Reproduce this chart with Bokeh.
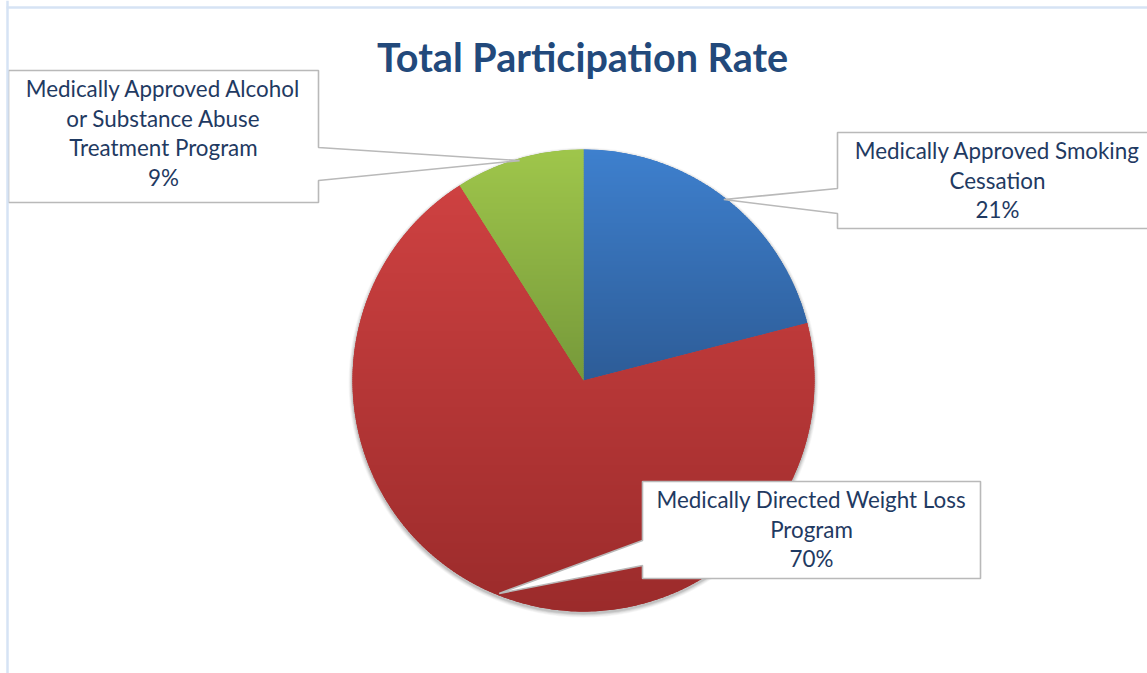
import numpy as np
from bokeh.plotting import figure
from bokeh.models import Range1d
from bokeh.core.properties import value
from bokeh.embed import file_html
from bokeh.resources import INLINE

# ---------------- data ----------------
chart_title = "Total Participation Rate"
categories = ["Medically Approved Smoking Cessation",
              "Medically Directed Weight Loss Program",
              "Medically Approved Alcohol or Substance Abuse Treatment Program"]
percent = [21, 70, 9]
name_lines = [["Medically Approved Smoking", "Cessation"],
              ["Medically Directed Weight Loss", "Program"],
              ["Medically Approved Alcohol", "or Substance Abuse", "Treatment Program"]]

# ---------------- style ----------------
color_top = ["#3e80ce", "#ce4141", "#9fc64b"]
color_bot = ["#2d5c97", "#9b2b2b", "#76993a"]
title_color = "#22497b"
label_color = "#1f3a62"
W, H = 1147, 673
LABEL_FS = 22.4
TITLE_FS = 39.5


def Y(py):
    return H - py


CX, CY, R = 583, Y(380), 231
# callout boxes (page px): left, top, right, bottom, side of pointer, pointer base (page y)
boxes = [(837, 132, 1157, 228, "left", (188, 213)),
         (642, 481, 980, 578, "left", (540, 565)),
         (8, 70, 318, 202, "right", (147, 180))]

p = figure(width=W, height=H, output_backend="svg", toolbar_location=None,
           x_range=Range1d(0, W), y_range=Range1d(0, H),
           x_axis_type=None, y_axis_type=None, min_border=0,
           background_fill_color="white", border_fill_color="white")
p.outline_line_color = None
p.grid.visible = False

# shadow
for k, a in zip([5, 4, 3, 2, 1], [0.03, 0.04, 0.05, 0.06, 0.08]):
    p.circle(x=[CX], y=[CY - 2], radius=R + k * 0.8, fill_color="#000000",
             fill_alpha=a, line_color=None)

# angles
vals = np.array(percent, dtype=float)
fr = vals / vals.sum()
ends = np.pi / 2 - 2 * np.pi * np.cumsum(fr)
starts = np.concatenate([[np.pi / 2], ends[:-1]])
mids = (starts + ends) / 2


def hex2rgb(h):
    return np.array([int(h[i:i + 2], 16) for i in (1, 3, 5)], dtype=float)


def rgb2hex(c):
    return "#%02x%02x%02x" % tuple(int(round(v)) for v in c)


def clip(poly, y0, keep_above):
    out = []
    n = len(poly)
    for i in range(n):
        P = poly[i]
        Q = poly[(i + 1) % n]
        inP = P[1] >= y0 if keep_above else P[1] <= y0
        inQ = Q[1] >= y0 if keep_above else Q[1] <= y0
        if inP:
            out.append(P)
        if inP != inQ:
            t = (y0 - P[1]) / (Q[1] - P[1])
            out.append((P[0] + t * (Q[0] - P[0]), y0))
    return out


# base wedges (mid colour)
for i in range(len(percent)):
    mid = rgb2hex((hex2rgb(color_top[i]) + hex2rgb(color_bot[i])) / 2)
    p.wedge(x=[CX], y=[CY], radius=R, start_angle=[starts[i]], end_angle=[ends[i]],
            direction="clock", fill_color=mid, line_color=None)

# gradient bands
xs_all, ys_all, cols = [], [], []
step = 2.0
for i in range(len(percent)):
    n = max(8, int(abs(starts[i] - ends[i]) * 180 / np.pi))
    th = np.linspace(starts[i], ends[i], n)
    poly = [(CX, CY)] + [(CX + R * np.cos(t), CY + R * np.sin(t)) for t in th]
    ytop = max(q[1] for q in poly)
    ybot = min(q[1] for q in poly)
    c0, c1 = hex2rgb(color_top[i]), hex2rgb(color_bot[i])
    yy = ytop
    while yy > ybot:
        y_hi, y_lo = yy + 0.4, max(yy - step - 0.4, ybot - 1)
        part = clip(clip(poly, y_lo, True), y_hi, False)
        if len(part) >= 3:
            f = (ytop - (yy - step / 2)) / (ytop - ybot)
            f = min(max(f, 0), 1)
            xs_all.append([q[0] for q in part])
            ys_all.append([q[1] for q in part])
            cols.append(rgb2hex(c0 + (c1 - c0) * f))
        yy -= step
p.patches(xs=xs_all, ys=ys_all, fill_color=cols, line_color=None)

# callouts
for i, (L, T, Rr, B, side, base) in enumerate(boxes):
    tip = (CX + (R - 2) * np.cos(mids[i]), CY + (R - 2) * np.sin(mids[i]))
    if side == "left":
        px = [L, Rr, Rr, L, L, tip[0], L]
        py = [Y(T), Y(T), Y(B), Y(B), Y(base[1]), tip[1], Y(base[0])]
    else:
        px = [L, Rr, Rr, tip[0], Rr, Rr, L]
        py = [Y(T), Y(T), Y(base[0]), tip[1], Y(base[1]), Y(B), Y(B)]
    p.patch(x=px, y=py, fill_color="white", line_color="#b9b9b9", line_width=1.6)
    lines = name_lines[i] + ["%d%%" % percent[i]]
    cxb = (L + Rr) / 2
    p.text(x=[cxb] * len(lines),
           y=[Y(T + 27 + 29.6 * k) + 0.39 * LABEL_FS for k in range(len(lines))],
           text=lines, text_font=value("Lato"), text_font_size=value("%.1fpx" % LABEL_FS),
           text_align="center", text_baseline="alphabetic", text_color=label_color)

# title
p.text(x=[582], y=[Y(73) + 0.42 * TITLE_FS], text=[chart_title], text_font=value("Lato"),
       text_font_style="bold", text_font_size=value("%.1fpx" % TITLE_FS), text_align="center",
       text_baseline="alphabetic", text_color=title_color)

# chart frame (top and left edges visible)
p.line(x=[7, 7], y=[0, H], line_color="#d6e3f4", line_width=2.5)
p.line(x=[6, W], y=[Y(7), Y(7)], line_color="#d6e3f4", line_width=2.5)

open("out.html", "w").write(file_html(p, INLINE))
